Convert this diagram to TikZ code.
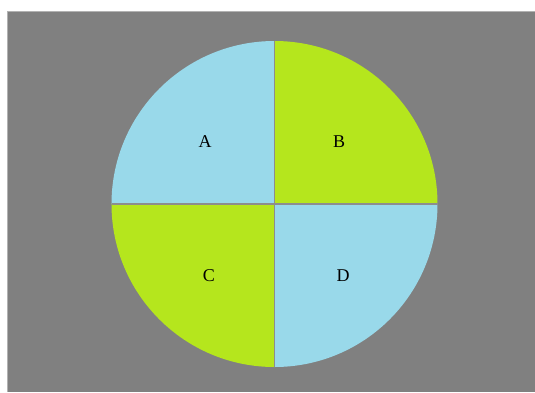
\documentclass[tikz,border=0pt]{standalone}
\usepackage{fontspec}
\setmainfont{Liberation Serif}
\definecolor{bg}{RGB}{128,128,128}
\definecolor{qblue}{RGB}{153,217,234}
\definecolor{qgreen}{RGB}{181,230,29}
\begin{document}
\begin{tikzpicture}[x=1pt,y=-1pt,
  lbl/.style={font=\fontsize{18}{21}\selectfont, text=black, inner sep=0pt},
  divider/.style={draw=bg!90!white, line width=1.2pt}]
\useasboundingbox (0,0) rectangle (535,392);
\fill[white] (0,0) rectangle (535,392);
\fill[bg] (7.5,11) rectangle (535,392);
\draw[gray!60!white, line width=0.8pt] (7.8,11.3) -- (535,11.3);
\draw[gray!60!white, line width=0.8pt] (7.8,11.3) -- (7.8,392);
\coordinate (O) at (274.5,204);
\def\R{163}
% quadrants (y axis points down, so angle 90 is visually down)
\fill[qblue]  (O) -- ++(-\R,0) arc[start angle=180, end angle=270, radius=\R] -- cycle;
\fill[qgreen] (O) -- ++(0,-\R) arc[start angle=270, end angle=360, radius=\R] -- cycle;
\fill[qgreen] (O) -- ++(-\R,0) arc[start angle=180, end angle=90, radius=\R] -- cycle;
\fill[qblue]  (O) -- ++(\R,0) arc[start angle=0, end angle=90, radius=\R] -- cycle;
\coordinate (T) at (274.5,41);
\coordinate (Bt) at (274.5,367);
\coordinate (L) at (111.5,204);
\coordinate (Rt) at (437.5,204);
\draw[divider] (T) -- (Bt);
\draw[divider] (L) -- (Rt);
\node[lbl] (A) at (205,142) {A};
\node[lbl] (B) at (339,142) {B};
\node[lbl] (C) at (209,276) {C};
\node[lbl] (D) at (343,276) {D};
\end{tikzpicture}
\end{document}
